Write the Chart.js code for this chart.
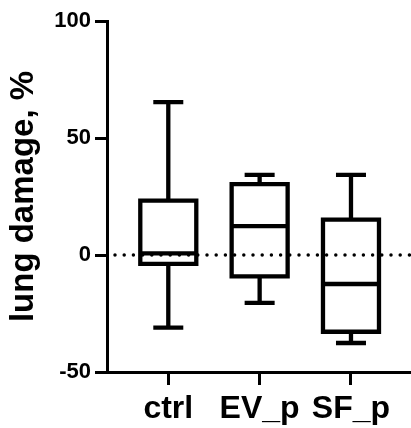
<!DOCTYPE html>
<html><head><meta charset="utf-8">
<script src="https://cdn.jsdelivr.net/npm/chart.js@4"></script>
<style>html,body{margin:0;padding:0;background:#fff}#wrap{width:411px;height:428px}</style>
</head><body><div id="wrap"><canvas id="c" width="411" height="428"></canvas></div>
<script>
const categories = ["ctrl", "EV_p", "SF_p"];
const whiskerLow  = [-31, -20.5, -37.6];
const boxQ1       = [-3.8, -9.1, -32.8];
const medians     = [0.7, 12.3, -12.4];
const boxQ3       = [23.2, 30.3, 15.1];
const whiskerHigh = [65.3, 34.2, 34.2];
const yTicks = [-50, 0, 50, 100];
const referenceLine = 0;

const positions = categories.map((_, i) => i + 1);
const LW = 4.3;
const BOX_HALF = 28;   // px
const CAP_HALF = 15;   // px

const boxPlugin = {
  id: 'boxes',
  afterDatasetsDraw(chart) {
    const ctx = chart.ctx, xs = chart.scales.x, ys = chart.scales.y;
    ctx.save();
    ctx.strokeStyle = '#000';
    ctx.lineWidth = LW;
    ctx.lineCap = 'butt';
    positions.forEach((p, i) => {
      const cx = xs.getPixelForValue(p);
      const yLo = ys.getPixelForValue(whiskerLow[i]);
      const yHi = ys.getPixelForValue(whiskerHigh[i]);
      const y1 = ys.getPixelForValue(boxQ1[i]);
      const y3 = ys.getPixelForValue(boxQ3[i]);
      const ym = ys.getPixelForValue(medians[i]);
      ctx.beginPath();
      ctx.moveTo(cx, y3); ctx.lineTo(cx, yHi);
      ctx.moveTo(cx, y1); ctx.lineTo(cx, yLo);
      ctx.moveTo(cx - CAP_HALF, yHi); ctx.lineTo(cx + CAP_HALF, yHi);
      ctx.moveTo(cx - CAP_HALF, yLo); ctx.lineTo(cx + CAP_HALF, yLo);
      ctx.stroke();
      ctx.beginPath();
      ctx.lineJoin = 'miter';
      ctx.rect(cx - BOX_HALF, y3, BOX_HALF * 2, y1 - y3);
      ctx.stroke();
      ctx.beginPath();
      ctx.moveTo(cx - BOX_HALF, ym); ctx.lineTo(cx + BOX_HALF, ym);
      ctx.stroke();
    });
    ctx.restore();
  }
};

const XMIN = 0.329, XMAX = 3.657;

new Chart(document.getElementById('c'), {
  type: 'scatter',
  data: {
    datasets: [{
      type: 'line',
      data: [{x: XMIN, y: referenceLine}, {x: XMAX, y: referenceLine}],
      borderColor: '#000',
      borderWidth: 3.5,
      borderDash: [0, 9.2],
      borderDashOffset: -8,
      borderCapStyle: 'round',
      pointRadius: 0,
      fill: false
    }]
  },
  plugins: [boxPlugin],
  options: {
    responsive: false,
    animation: false,
    layout: { padding: { top: 21, right: 0, left: 0, bottom: 0 } },
    plugins: { legend: { display: false }, tooltip: { enabled: false } },
    scales: {
      x: {
        type: 'linear', min: XMIN, max: XMAX,
        afterBuildTicks: (s) => { s.ticks = positions.map(v => ({ value: v })); },
        afterFit: (s) => { s.height = 56; },
        ticks: {
          callback: (v) => categories[Math.round(v) - 1] || '',
          color: '#000',
          font: { family: 'Liberation Sans', size: 32, weight: 'bold' },
          padding: 5,
          maxRotation: 0,
          autoSkip: false
        },
        grid: { display: true, drawOnChartArea: false, drawTicks: true, tickLength: 13, tickWidth: 3, tickColor: '#000', color: '#000' },
        border: { display: true, color: '#000', width: 3 }
      },
      y: {
        min: -50, max: 100,
        afterBuildTicks: (s) => { s.ticks = yTicks.map(v => ({ value: v })); },
        afterFit: (s) => { s.width = 107; },
        ticks: {
          color: '#000',
          font: { family: 'Liberation Sans', size: 22, weight: 'bold' },
          padding: 4
        },
        grid: { display: true, drawOnChartArea: false, drawTicks: true, tickLength: 12, tickWidth: 3, tickColor: '#000', color: '#000' },
        border: { display: true, color: '#000', width: 3 },
        title: {
          display: true,
          text: 'lung damage, %',
          color: '#000',
          font: { family: 'Liberation Sans', size: 33, weight: 'bold' },
          padding: { top: 4, bottom: 0 }
        }
      }
    }
  }
});
</script></body></html>
